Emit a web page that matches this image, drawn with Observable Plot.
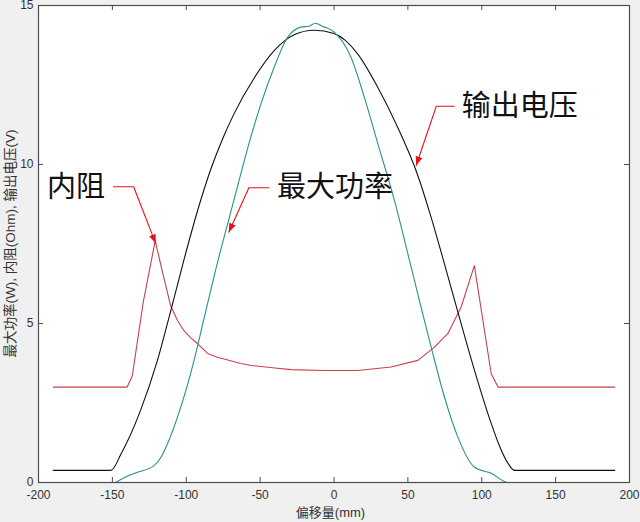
<!DOCTYPE html>
<html><head><meta charset="utf-8">
<script src="https://cdn.jsdelivr.net/npm/d3@7"></script>
<script src="https://cdn.jsdelivr.net/npm/@observablehq/plot@0.6"></script>
<style>
body{margin:0;background:#f0f0f0;}
</style></head><body><div id="chart"></div>
<script>
// ---- data ----
const xTicks = [-200,-150,-100,-50,0,50,100,150,200];
const yTicks = [0,5,10,15];
const xLabel = "偏移量(mm)";
const yLabel = "最大功率(W), 内阻(Ohm), 输出电压(V)";

// 内阻 (Ohm)
const resX = [-190,-140,-136.5,-129,-121,-116,-110.5,-106,-101.7,-97,-92.4,-85.6,-78.9,-63,-56,-40,-29,-7,16,38.6,56.7,67.8,77,86,95,106.4,111,190];
const resY = [3,3,3.36,5.7,7.6,6.6,5.55,5.1,4.78,4.55,4.37,4.06,3.94,3.74,3.68,3.6,3.55,3.52,3.52,3.63,3.84,4.25,4.68,5.51,6.82,3.42,3.0,3.0];

// 输出电压 (V)
const voltX = [-190,-151,-144,-131,-119.5,-110.5,-101,-92,-83.4,-75,-67.6,-54,-40.5,-26.9,-13.5,0,16,29.6,43,56,66,74,83,94,105,112,117.8,122.2,190];
const voltY = [0.38,0.38,0.91,2.26,3.84,5.4,7.1,8.6,9.85,10.85,11.6,12.72,13.58,14.08,14.22,14.12,13.48,12.43,11.18,9.75,8.3,7.0,5.5,3.7,2.05,1.15,0.6,0.38,0.38];

// 最大功率 (W)
const powX = [-190,-148,-146,-140,-133,-121.8,-117,-112.7,-103.7,-94.7,-88,-78.4,-67.6,-58.5,-49.5,-40.5,-31.4,-22.4,-17,-12.5,-8,0.2,11.5,20.5,30,40.9,50,57.8,65.8,74.8,83.9,95.1,106.4,117.8,190];
const powY = [0,0,0.05,0.2,0.32,0.53,0.8,1.22,2.37,3.84,5.15,7.0,8.9,10.5,11.9,13.06,14.0,14.32,14.35,14.44,14.35,14.16,13.37,12.12,10.6,8.87,7.19,5.72,4.25,2.68,1.42,0.48,0.29,0,0];

// annotations: label, label anchor point, arrow polyline (data coords)
const annoText = ["输出电压","最大功率","内阻"];
const annoTextX = [86.5,-38.5,-155];
const annoTextY = [11.83,9.27,9.27];
const annoAnchor = ["start","start","end"];
const annoPathX = [[81.4,69.2,55.6],[-44.1,-57.6,-71.2],[-149.2,-135.6,-120.7]];
const annoPathY = [[11.83,11.83,9.97],[9.27,9.27,7.87],[9.3,9.3,7.52]];

// ---- build ----
const W = 640, H = 522, mL = 38, mR = 11, mT = 5, mB = 40;
const innerW = W - mL - mR, innerH = H - mT - mB;
const rows = (xs, ys) => xs.map((x, i) => ({x, y: ys[i]}));
const innerX = xTicks.slice(1, -1);
const innerY = yTicks.slice(1, -1);
const annoRows = annoText.map((t, i) => ({t, x: annoTextX[i], y: annoTextY[i], a: annoAnchor[i]}));
const pathRows = annoPathX.flatMap((xs, k) => xs.map((x, i) => ({k, x, y: annoPathY[k][i]})));
const axisColor = "#4d4d4d";
const arrowColor = "#e8101a";
const annoFont = {fontSize: 29, fill: "#111", fontFamily: "'Noto Sans CJK SC', sans-serif", lineAnchor: "middle"};

const plot = Plot.plot({
  width: W, height: H,
  marginLeft: mL, marginRight: mR, marginTop: mT, marginBottom: mB,
  style: {background: "#f0f0f0", fontFamily: "'Liberation Sans', Arial, sans-serif", fontSize: "12px", color: "#333", overflow: "visible"},
  x: {domain: [-200, 200]},
  y: {domain: [0, 15]},
  marks: [
    Plot.frame({fill: "white", stroke: "none"}),
    Plot.line(rows(resX, resY), {x: "x", y: "y", stroke: "#c8404f", strokeWidth: 1.1}),
    Plot.line(rows(voltX, voltY), {x: "x", y: "y", stroke: "#111", strokeWidth: 1.1, curve: "monotone-x"}),
    Plot.line(rows(powX, powY), {x: "x", y: "y", stroke: "#2b8f8f", strokeWidth: 1.1, curve: "monotone-x"}),
    Plot.tickX(innerX, {x: d => d, insetTop: innerH - 5, stroke: axisColor}),
    Plot.tickX(innerX, {x: d => d, insetBottom: innerH - 5, stroke: axisColor}),
    Plot.tickY(innerY, {y: d => d, insetRight: innerW - 5, stroke: axisColor}),
    Plot.tickY(innerY, {y: d => d, insetLeft: innerW - 5, stroke: axisColor}),
    Plot.frame({stroke: axisColor, strokeWidth: 1.2}),
    Plot.axisX({ticks: xTicks, tickSize: 0, tickPadding: 8, tickFormat: d => String(d), label: null, fill: "#333"}),
    Plot.axisY({ticks: yTicks, tickSize: 0, tickPadding: 5, tickFormat: d => String(d), label: null, fill: "#333"}),
    Plot.line(pathRows, {x: "x", y: "y", z: "k", stroke: arrowColor, strokeWidth: 1.1}),
    Plot.text(annoRows.filter(d => d.a === "start"), {x: "x", y: "y", text: "t", textAnchor: "start", ...annoFont}),
    Plot.text(annoRows.filter(d => d.a === "end"), {x: "x", y: "y", text: "t", textAnchor: "end", ...annoFont})
  ]
});

const svg = d3.select(plot);
const defs = svg.insert("defs", ":first-child");
defs.append("marker")
  .attr("id", "ah").attr("markerUnits", "userSpaceOnUse")
  .attr("markerWidth", 10).attr("markerHeight", 7)
  .attr("refX", 9).attr("refY", 3.5).attr("orient", "auto")
  .append("path").attr("d", "M0,0 L9,3.5 L0,7 Z").attr("fill", arrowColor);
svg.selectAll(`g[stroke="${arrowColor}"] path, path[stroke="${arrowColor}"]`).attr("marker-end", "url(#ah)");

svg.append("text")
  .attr("x", mL + innerW * 0.5 - 3).attr("y", 512)
  .attr("text-anchor", "middle").attr("dominant-baseline", "central")
  .attr("font-family", "'Liberation Sans', 'Noto Sans CJK SC', sans-serif").attr("font-size", 13).attr("fill", "#333")
  .text(xLabel);
svg.append("text")
  .attr("transform", `translate(10,${mT + innerH * 0.5})rotate(-90)`)
  .attr("text-anchor", "middle").attr("dominant-baseline", "central")
  .attr("font-family", "'Liberation Sans', 'Noto Sans CJK SC', sans-serif").attr("font-size", 13.5).attr("fill", "#333")
  .text(yLabel);

document.getElementById("chart").append(plot);
</script>
</body></html>
